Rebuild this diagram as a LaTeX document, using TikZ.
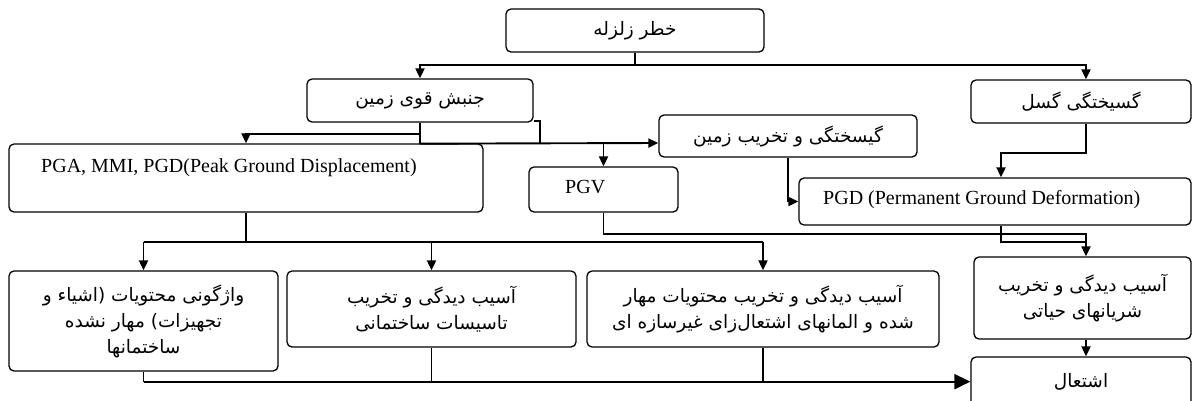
\documentclass[tikz,border=0pt]{standalone}
\usepackage{fontspec}
\setmainfont{Liberation Serif}
\newfontfamily\fa[Script=Arabic]{DejaVu Sans}
\TeXXeTstate=1
\usetikzlibrary{arrows.meta,calc}
\newcommand\rl[1]{\hbox{\beginR#1\endR}}
\begin{document}
\begin{tikzpicture}[x=1pt,y=-1pt,
  box/.style={draw,line width=1.3pt,rounded corners=5pt,inner sep=0pt},
  fatext/.style={font=\fa\fontsize{18.5}{26}\selectfont,align=center},
  entext/.style={font=\fontsize{20}{24}\selectfont,inner sep=0pt},
  conn/.style={line width=1.9pt},
  arr/.style={conn,-{Triangle[length=10pt,width=9pt]}},
  bigarr/.style={line width=2pt,-{Triangle[length=16pt,width=15pt]}}]
\clip (0,0) rectangle (1193,400);
% boxes
\node[box,fatext,minimum width=258pt,minimum height=43pt] (hazard) at (635,30.5) {\rl{خطر زلزله}};
\node[box,fatext,minimum width=226pt,minimum height=43pt] (gm) at (420,100.5) {\rl{جنبش قوی زمین}};
\node[box,fatext,minimum width=220pt,minimum height=43pt] (fault) at (1081,101.5) {\rl{گسیختگی گسل}};
\node[box,fatext,minimum width=258pt,minimum height=42pt] (rupture) at (788,136) {\rl{گیسختگی و تخریب زمین}};
\node[box,minimum width=474pt,minimum height=68pt] (pga) at (246,178) {};
\node[entext,anchor=base west] (pgaT) at (41,172.5) {PGA, MMI, PGD(Peak Ground Displacement)};
\node[box,minimum width=149pt,minimum height=45pt] (pgv) at (603.5,189.5) {};
\node[entext,anchor=base west] (pgvT) at (565,193.5) {PGV};
\node[box,minimum width=392pt,minimum height=47pt] (pgd) at (995,201.5) {};
\node[entext,anchor=base west] (pgdT) at (823,204.5) {PGD (Permanent Ground Deformation)};
\node[box,fatext,minimum width=269pt,minimum height=100pt] (overturn) at (143.5,321)
  {\rl{واژگونی محتویات \mbox{(}اشیاء و}\\\rl{تجهیزات\mbox{)} مهار نشده}\\\rl{ساختمانها}};
\node[box,fatext,minimum width=289pt,minimum height=76pt] (facilities) at (431.5,309)
  {\rl{آسیب دیدگی و تخریب}\\\rl{تاسیسات ساختمانی}};
\node[box,fatext,minimum width=352pt,minimum height=76pt] (contents) at (763,309)
  {\rl{آسیب دیدگی و تخریب محتویات مهار}\\\rl{شده و المانهای اشتعال‌زای غیرسازه ای}};
\node[box,fatext,minimum width=217pt,minimum height=82pt] (lifelines) at (1082.5,298)
  {\rl{آسیب دیدگی و تخریب}\\\rl{شریانهای حیاتی}};
\node[box,fatext,minimum width=220pt,minimum height=50pt] (ignition) at (1081,382) {\rl{اشتعال}};
% connectors
\coordinate (cR) at (1086,0);
\draw[arr] (hazard.south) -- ++(0,12.5) -| (gm.north);
\draw[arr] (hazard.south) -- ++(0,12.5) -| (fault.north -| cR);
\draw[conn] (gm.south) -- ++(0,21) coordinate (gmb);
\draw[arr] ($(gm.south)+(0,11)$) -| (pga.north);
\coordinate (k) at (540,143);
\draw[conn] ($(gm.south east)+(0,-2)$) -| (k);
\draw[arr] (gmb) -- ($(rupture.west)+(0,7)$);
\draw[arr] (pgv.north |- gmb) -- (pgv.north);
\draw[arr] (rupture.south) |- (pgd.west);
\draw[arr] (fault.south -| cR) -- ++(0,29) -| ($(pgd.north)+(6,0)$);
\draw[conn] (pga.south) -- ++(0,29) coordinate (pb);
\draw[conn] (overturn.north |- pb) -- (contents.north |- pb);
\draw[arr] (overturn.north |- pb) -- (overturn.north);
\draw[arr] (facilities.north |- pb) -- (facilities.north);
\draw[arr] (contents.north |- pb) -- (contents.north);
\draw[arr] (pgv.south) -- ++(0,21) -| (lifelines.north -| cR);
\draw[conn] ($(pgd.south)+(6,0)$) -- ++(0,16) -| ($(cR |- pgd.south)+(0,16)$);
\draw[arr] (lifelines.south -| cR) -- (ignition.north -| cR);
\draw[conn] (overturn.south) -- ++(0,10) coordinate (bb);
\draw[bigarr] (bb) -- (ignition.west |- bb);
\draw[conn] (facilities.south) -- (facilities.south |- bb);
\draw[conn] (contents.south) -- (contents.south |- bb);
\end{tikzpicture}
\end{document}
